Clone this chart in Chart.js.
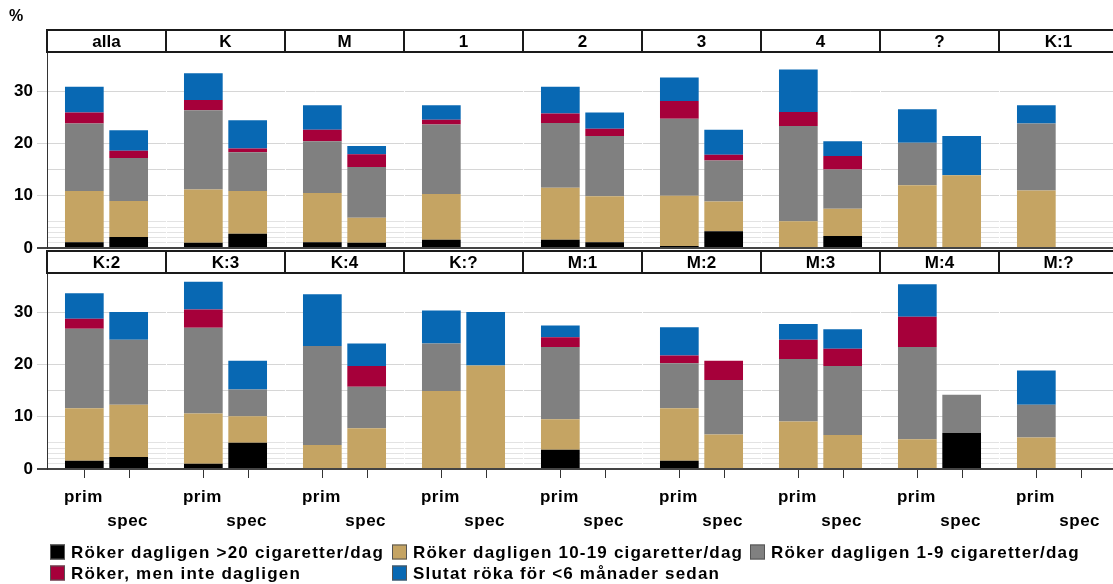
<!DOCTYPE html>
<html>
<head>
<meta charset="utf-8">
<script src="https://cdn.jsdelivr.net/npm/chart.js@4/dist/chart.umd.min.js"></script>
<style>
  html, body { margin: 0; padding: 0; background: #fff; overflow: hidden; width: 1113px; height: 584px; }
  #wrap { position: relative; width: 1113px; height: 584px; overflow: hidden; }
  #c1 { position: absolute; left: 0; top: 0; }
  #c2 { position: absolute; left: 0; top: 250px; }
</style>
</head>
<body>
<div id="wrap">
  <canvas id="c1" width="1118" height="262"></canvas>
  <canvas id="c2" width="1118" height="334"></canvas>
</div>
<script>
// ---- Data ----
const panelsTop = ['alla', 'K', 'M', '1', '2', '3', '4', '?', 'K:1'];
const panelsBottom = ['K:2', 'K:3', 'K:4', 'K:?', 'M:1', 'M:2', 'M:3', 'M:4', 'M:?'];
const groups = ['prim', 'spec'];
const seriesNames = [
  'Röker dagligen >20 cigaretter/dag',
  'Röker dagligen 10-19 cigaretter/dag',
  'Röker dagligen 1-9 cigaretter/dag',
  'Röker, men inte dagligen',
  'Slutat röka för <6 månader sedan'
];
const seriesColors = ['#000000', '#C5A463', '#808080', '#A6003A', '#0868B3'];

// 18 panels: top row then bottom row
const over20Prim   = [1.1, 1.0, 1.1, 1.6, 1.6, 0.4, 0,   0,    0,    1.6, 1.0, 0,    0,    3.7, 1.6, 0,    0,    0];
const over20Spec   = [2.1, 2.7, 1.0, 0,   1.1, 3.2, 2.3, 0,    0,    2.3, 5.0, 0,    0,    0,   0,   0,    6.9,  0];
const d10to19Prim  = [9.8, 10.2, 9.4, 8.7, 9.9, 9.6, 5.1, 12.0, 11.0, 10.0, 9.6, 4.6, 14.9, 5.8, 10.0, 9.1, 5.7, 6.0];
const d10to19Spec  = [6.9, 8.2, 4.8, 0,   8.8, 5.7, 5.2, 13.9, 0,    10.0, 5.1, 7.8, 19.8, 0,   6.6, 6.5,  0,    0];
const d1to9Prim    = [12.9, 15.1, 9.9, 13.3, 12.4, 14.7, 18.2, 8.1, 12.8, 15.2, 16.4, 18.9, 9.1, 13.8, 8.6, 11.9, 17.6, 6.3];
const d1to9Spec    = [8.2, 7.4, 9.7, 0,   11.5, 7.8, 7.5, 0,    0,    12.4, 5.1, 7.9, 0,    0,   10.4, 13.2, 7.3,  0];
const notDailyPrim = [2.1, 2.0, 2.2, 0.9, 1.8, 3.4, 2.7, 0,    0,    1.9, 3.5, 0,    0,    1.9, 1.5, 3.7,  5.8,  0];
const notDailySpec = [1.4, 0.7, 2.4, 0,   1.4, 1.1, 2.6, 0,    0,    0,   0,   4.0,  0,    0,   3.7, 3.3,  0,    0];
const quitPrim     = [4.9, 5.1, 4.7, 2.8, 5.1, 4.5, 8.1, 6.4,  3.5,  4.9, 5.3, 9.9,  6.3,  2.2, 5.4, 3.0,  6.2,  6.5];
const quitSpec     = [3.9, 5.4, 1.6, 0,   3.1, 4.8, 2.8, 7.5,  0,    5.3, 5.5, 4.3,  10.2, 0,   0,   3.7,  0,    0];

const yGridValues = [0, 1, 2, 3, 4, 5, 10, 15, 20, 30];
const yLabelValues = [0, 10, 20, 30];

const seriesData = [
  { prim: over20Prim, spec: over20Spec },
  { prim: d10to19Prim, spec: d10to19Spec },
  { prim: d1to9Prim, spec: d1to9Spec },
  { prim: notDailyPrim, spec: notDailySpec },
  { prim: quitPrim, spec: quitSpec }
];

const FONT = '"Liberation Sans", Arial, sans-serif';

function rowSlice(arr, r) { return arr.slice(r * 9, r * 9 + 9); }

function makeDatasets(r) {
  const ds = [];
  seriesData.forEach((s, si) => {
    groups.forEach(g => {
      ds.push({
        label: seriesNames[si],
        data: rowSlice(s[g], r),
        backgroundColor: seriesColors[si],
        borderWidth: 0,
        stack: g,
        categoryPercentage: 0.745,
        barPercentage: 0.873
      });
    });
  });
  return ds;
}

const panelPlugin = {
  id: 'panelDeco',
  beforeDatasetsDraw(chart) {
    const ctx = chart.ctx, ca = chart.chartArea, xs = chart.scales.x, ys = chart.scales.y;
    const n = chart.data.labels.length;
    const w = (ca.right - ca.left) / n;
    const y0 = ys.getPixelForValue(0);
    ctx.save();
    // white gaps between panels
    ctx.strokeStyle = '#ffffff';
    ctx.lineWidth = 1;
    for (let i = 1; i < n; i++) {
      const x = Math.round(xs.getPixelForValue(i) - w / 2) + 0.5;
      ctx.beginPath(); ctx.moveTo(x, ca.top); ctx.lineTo(x, y0 - 1.5); ctx.stroke();
    }
    // headers
    const hh = 24;
    for (let i = 0; i < n; i++) {
      const x0 = xs.getPixelForValue(i) - w / 2;
      ctx.fillStyle = '#ffffff';
      ctx.fillRect(x0, ca.top, w, hh);
      ctx.strokeStyle = '#1a1a1a';
      ctx.lineWidth = 2;
      ctx.strokeRect(x0, ca.top + 1, w, hh - 2);
      ctx.fillStyle = '#000';
      ctx.font = 'bold 17px ' + FONT;
      ctx.textAlign = 'center';
      ctx.textBaseline = 'middle';
      ctx.fillText(chart.data.labels[i], xs.getPixelForValue(i), ca.top + hh / 2 + 1);
    }
    ctx.restore();
  },
  afterDraw(chart, args, opts) {
    const ctx = chart.ctx;
    ctx.save();
    if (opts.percent) {
      ctx.fillStyle = '#000';
      ctx.font = 'bold 16px ' + FONT;
      ctx.textAlign = 'left';
      ctx.textBaseline = 'middle';
      ctx.fillText('%', 9, 17);
    }
    if (opts.bottom) {
      const y0 = chart.scales.y.getPixelForValue(0);
      ctx.font = 'bold 17px ' + FONT;
      ctx.textAlign = 'center';
      ctx.textBaseline = 'middle';
      try { ctx.letterSpacing = '0.5px'; } catch (e) {}
      groups.forEach((g, gi) => {
        const dsIndex = chart.data.datasets.findIndex(d => d.stack === g);
        const meta = chart.getDatasetMeta(dsIndex);
        meta.data.forEach(bar => {
          const x = Math.round(bar.x) + 0.5;
          ctx.strokeStyle = '#333';
          ctx.lineWidth = 1;
          ctx.beginPath(); ctx.moveTo(x, y0 + 1); ctx.lineTo(x, y0 + 9); ctx.stroke();
          ctx.fillStyle = '#000';
          ctx.fillText(g, bar.x - 1, y0 + 28 + gi * 24);
        });
      });
      // legend
      const legendItems = chart.data.datasets.filter(d => d.stack === groups[0]);
      const cols = [50, 392, 750];
      const rows = [302, 323];
      ctx.textAlign = 'left';
      ctx.font = 'bold 17px ' + FONT;
      try { ctx.letterSpacing = '1.2px'; } catch (e) {}
      legendItems.forEach((d, i) => {
        const x = cols[i % 3], y = rows[Math.floor(i / 3)];
        ctx.fillStyle = d.backgroundColor;
        ctx.fillRect(x, y - 7.5, 15, 15);
        ctx.strokeStyle = '#555';
        ctx.lineWidth = 1;
        ctx.strokeRect(x + 0.5, y - 7, 14, 14);
        ctx.fillStyle = '#000';
        ctx.fillText(d.label, x + 21, y + 1);
      });
    }
    ctx.restore();
  }
};

function yScale() {
  return {
    min: 0,
    max: 41.85,
    afterBuildTicks: (axis) => { axis.ticks = yGridValues.map(v => ({ value: v })); },
    afterFit: (scale) => { scale.width = 47; scale.paddingTop = 0; scale.paddingBottom = 0; },
    ticks: {
      autoSkip: false,
      padding: 4,
      color: '#000',
      font: { family: FONT, size: 17, weight: 'bold' },
      callback: (v) => yLabelValues.includes(v) ? String(v) : ''
    },
    grid: {
      color: (c) => c.tick && c.tick.value === 0 ? '#444' : (yLabelValues.includes(c.tick && c.tick.value) || (c.tick && c.tick.value === 15) ? '#d6d6d6' : '#e3e3e3'),
      lineWidth: (c) => c.tick && c.tick.value === 0 ? 2 : 1,
      tickColor: (c) => c.tick && c.tick.value === 0 ? '#444' : (yLabelValues.includes(c.tick && c.tick.value) ? '#d6d6d6' : 'rgba(0,0,0,0)'),
      tickLength: 10,
      drawTicks: true
    },
    border: { display: true, color: '#333', width: 1 }
  };
}

function makeChart(id, labels, r, padding, opts) {
  return new Chart(document.getElementById(id), {
    type: 'bar',
    data: { labels: labels, datasets: makeDatasets(r) },
    options: {
      responsive: false,
      maintainAspectRatio: false,
      animation: false,
      layout: { padding: padding },
      scales: {
        x: { type: 'category', display: false, stacked: true },
        y: Object.assign(yScale(), { stacked: true })
      },
      plugins: {
        legend: { display: false },
        tooltip: { enabled: false },
        panelDeco: opts
      }
    },
    plugins: [panelPlugin]
  });
}

makeChart('c1', panelsTop, 0, { top: 29, bottom: 14, left: 0, right: 0 }, { percent: true, bottom: false });
makeChart('c2', panelsBottom, 1, { top: 0, bottom: 115, left: 0, right: 0 }, { percent: false, bottom: true });
</script>
</body>
</html>
